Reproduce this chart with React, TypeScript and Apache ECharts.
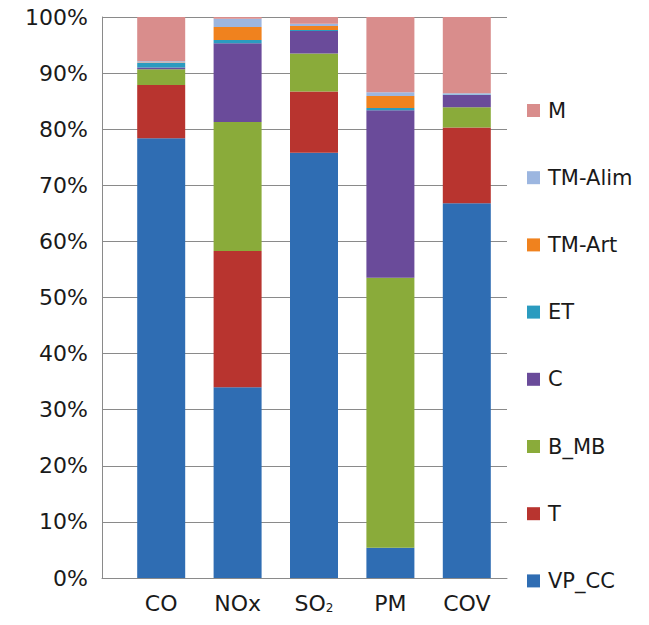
import React, { useEffect, useRef } from "react";
import * as echarts from "echarts";

const categories = ["CO", "NOx", "SO2", "PM", "COV"];
const seriesNames = ["VP_CC", "T", "B_MB", "C", "ET", "TM-Art", "TM-Alim", "M"];
const VP_CC = [78.4, 34.0, 75.8, 5.4, 66.8];
const T = [9.5, 24.3, 10.9, 0, 13.5];
const B_MB = [2.8, 23.0, 6.8, 48.1, 3.6];
const C = [0.3, 14.0, 4.0, 29.9, 2.2];
const ET = [0.8, 0.6, 0.2, 0.4, 0.1];
const TM_Art = [0.1, 2.3, 0.7, 2.1, 0.0];
const TM_Alim = [0.2, 1.5, 0.4, 0.7, 0.2];
const M = [7.9, 0.3, 1.2, 13.4, 13.6];
const yTicks = [0, 10, 20, 30, 40, 50, 60, 70, 80, 90, 100];

const seriesData = [VP_CC, T, B_MB, C, ET, TM_Art, TM_Alim, M];
const colors = ["#2f6db3", "#b8342f", "#8aab3a", "#6a4b9a", "#2b9bbf", "#f0821e", "#9cb6e0", "#d98d8c"];

const FONT = "DejaVu Sans";

export default function App() {
  const ref = useRef<HTMLDivElement>(null);
  useEffect(() => {
    if (!ref.current) return;
    const chart = echarts.init(ref.current, null, { renderer: "svg" });
    chart.setOption({
      animation: false,
      backgroundColor: "#ffffff",
      grid: [
        { left: 102, right: 142, top: 17, bottom: 47 },
        { left: 123, right: 144, top: 17, bottom: 47 },
      ],
      legend: {
        orient: "vertical",
        left: 522,
        top: 95,
        icon: "rect",
        itemWidth: 13,
        itemHeight: 13,
        itemGap: 46.2,
        data: [...seriesNames].reverse(),
        textStyle: { fontFamily: FONT, fontSize: 21, color: "#1a1a1a", lineHeight: 20, padding: [0, 0, 0, 3] },
      },
      xAxis: [
        {
          type: "category",
          gridIndex: 0,
          data: categories,
          axisLine: { show: true, lineStyle: { color: "#8a8a8a", width: 1 } },
          axisTick: { show: false },
          axisLabel: { show: false },
          splitLine: { show: false },
        },
        {
          type: "category",
          gridIndex: 1,
          data: categories,
          axisLine: { show: false },
          axisTick: { show: false },
          axisLabel: {
            interval: 0,
            margin: 14,
            fontFamily: FONT,
            fontSize: 22,
            color: "#1a1a1a",
            formatter: (v: string) => (v === "SO2" ? "SO{sub|2}" : v),
            rich: {
              sub: { fontFamily: FONT, fontSize: 12, color: "#1a1a1a", verticalAlign: "bottom", padding: [10, 0, 0, 0] },
            },
          },
        },
      ],
      yAxis: [
        {
          type: "value",
          gridIndex: 0,
          min: 0,
          max: 100,
          interval: 10,
          axisLine: { show: true, lineStyle: { color: "#8a8a8a", width: 1 } },
          axisTick: { show: false },
          splitLine: { show: true, lineStyle: { color: "#8a8a8a", width: 1 } },
          axisLabel: {
            margin: 14,
            fontFamily: FONT,
            fontSize: 22,
            color: "#1a1a1a",
            formatter: (v: number) => (yTicks.includes(v) ? v + "%" : ""),
          },
        },
        {
          type: "value",
          gridIndex: 1,
          min: 0,
          max: 100,
          interval: 10,
          show: false,
          splitLine: { show: false },
        },
      ],
      series: seriesNames.map((name, i) => ({
        name,
        type: "bar",
        stack: "total",
        xAxisIndex: 1,
        yAxisIndex: 1,
        barWidth: 48,
        itemStyle: { color: colors[i] },
        data: seriesData[i],
      })),
    });
    return () => chart.dispose();
  }, []);
  return <div ref={ref} style={{ width: 649, height: 625, position: "absolute", left: 0, top: 0 }} />;
}
